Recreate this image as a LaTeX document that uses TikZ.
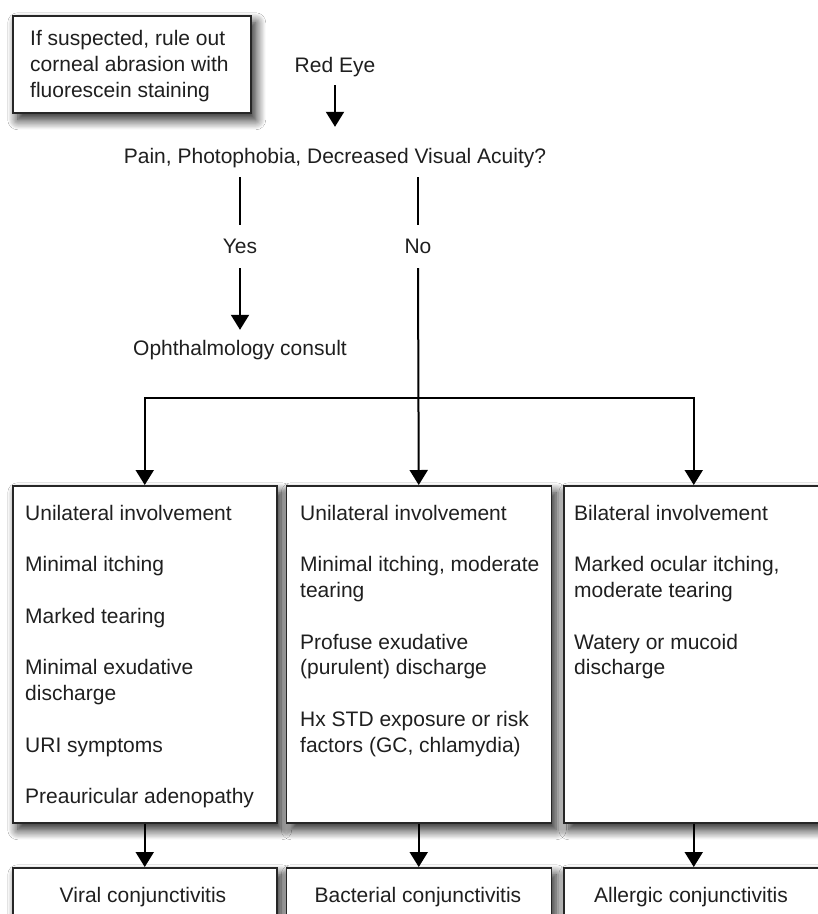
\documentclass[tikz,border=0pt]{standalone}
\usepackage{fontspec}
\setmainfont{Liberation Sans}
\usetikzlibrary{arrows.meta,shadows.blur,calc}

\tikzset{
  lbl/.style={inner sep=0pt, text height=15pt, text depth=4.5pt, anchor=base,
              font=\fontsize{21}{25.8}\selectfont, text=black!88},
  colbox/.style={draw=black!85, line width=1.5pt, fill=white, anchor=north west,
              blur shadow={shadow xshift=5pt, shadow yshift=-7pt, shadow blur radius=10pt,
                           shadow blur steps=14, shadow opacity=90}},
  coltext/.style={inner sep=0pt, anchor=north west, align=left,
              font=\fontsize{21}{25.8}\selectfont, text=black!88},
  arr/.style={line width=2pt, -{Triangle[width=18pt,length=15pt]}},
  ln/.style={line width=2pt},
}

\begin{document}
\begin{tikzpicture}[x=1pt,y=-1pt]
  \fill[white] (0,0) rectangle (818,914);
  \useasboundingbox (0,0) rectangle (818,914);

  % note box
  \node[colbox, minimum width=238pt, minimum height=97pt] (note) at (12,15) {};
  \node[coltext, font=\fontsize{21}{26}\selectfont] (notetxt) at (30,29.6)
    {If suspected, rule out\\corneal abrasion with\\fluorescein staining};

  % labels
  \node[lbl] (redeye) at (335,72) {Red Eye};
  \node[lbl] (pain) at (335,163) {Pain, Photophobia, Decreased Visual Acuity?};
  \node[lbl] (yes) at (240,253) {Yes};
  \node[lbl] (no) at (418,253) {No};
  \node[lbl] (ophth) at (240,355) {Ophthalmology consult};

  % column boxes
  \node[colbox, minimum width=264pt, minimum height=337pt] (c1) at (12,485) {};
  \node[colbox, minimum width=265pt, minimum height=337pt] (c2) at (285.5,485) {};
  \node[colbox, minimum width=260pt, minimum height=337pt] (c3) at (563,485) {};

  \node[coltext] (t1) at (25,504.6)
    {Unilateral involvement\\[25.8pt]Minimal itching\\[25.8pt]Marked tearing\\[25.8pt]Minimal exudative\\discharge\\[25.8pt]URI symptoms\\[25.8pt]Preauricular adenopathy};
  \node[coltext] (t2) at (300,504.6)
    {Unilateral involvement\\[25.8pt]Minimal itching, moderate\\tearing\\[25.8pt]Profuse exudative\\(purulent) discharge\\[25.8pt]Hx STD exposure or risk\\factors (GC, chlamydia)};
  \node[coltext] (t3) at (574,504.6)
    {Bilateral involvement\\[25.8pt]Marked ocular itching,\\moderate tearing\\[25.8pt]Watery or mucoid\\discharge};

  % bottom boxes
  \node[colbox, minimum width=264pt, minimum height=70pt] (d1) at (12,867) {};
  \node[colbox, minimum width=265pt, minimum height=70pt] (d2) at (285.5,867) {};
  \node[colbox, minimum width=260pt, minimum height=70pt] (d3) at (563,867) {};
  \node[lbl] (v) at (143,902) {Viral conjunctivitis};
  \node[lbl] (b) at (418,902) {Bacterial conjunctivitis};
  \node[lbl] (a) at (691,902) {Allergic conjunctivitis};

  % connectors
  \draw[arr] ($(redeye.south)+(0,8.5)$) -- ($(pain.north)+(0,-21)$);
  \draw[ln] ($(pain.south -| yes)+(0,9.5)$) -- ($(yes.north)+(0,-13)$);
  \draw[ln] ($(pain.south -| no)+(0,9.5)$) -- ($(no.north)+(0,-13)$);
  \draw[arr] ($(yes.south)+(0,10.5)$) -- ($(ophth.north)+(0,-10)$);
  \draw[arr] ($(no.south)+(0,10.5)$) -- (c2.north);
  \coordinate (split) at (418,398);
  \draw[arr] (split) -| (c1.north);
  \draw[arr] (split) -| (c3.north);
  \draw[arr] (c1.south) -- (d1.north);
  \draw[arr] (c2.south) -- (d2.north);
  \draw[arr] (c3.south) -- (d3.north);
\end{tikzpicture}
\end{document}
